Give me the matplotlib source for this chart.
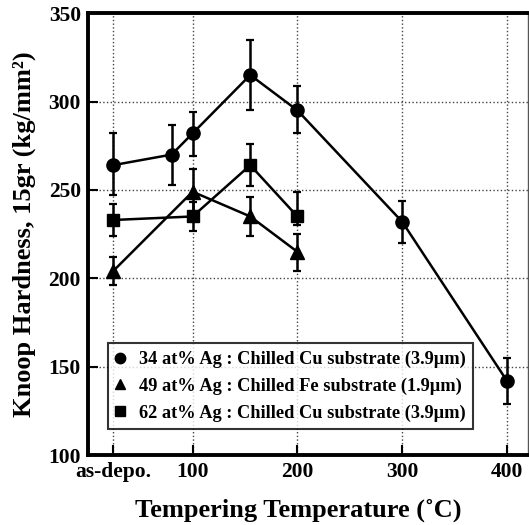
import matplotlib.pyplot as plt

plt.rcParams['font.family'] = ['Liberation Serif', 'DejaVu Serif']
plt.rcParams['font.weight'] = 'bold'

# temperature positions; "as-depo." sits left of the 100 tick
x_asdepo = 24
tick_pos = [x_asdepo, 100, 200, 300, 400]
tick_labels = ['as-depo.', '100', '200', '300', '400']

# 34 at% Ag, chilled Cu substrate
x_34 = [x_asdepo, 80, 100, 155, 200, 300, 400]
hv_34 = [264, 270, 282, 315, 295, 232, 142]
err_34_lo = [17, 17, 13, 20, 13, 12, 13]
err_34_hi = [18, 17, 12, 20, 14, 12, 13]

# 49 at% Ag, chilled Fe substrate
x_49 = [x_asdepo, 100, 155, 200]
hv_49 = [204, 249, 235, 215]
err_49_lo = [8, 13, 11, 11]
err_49_hi = [8, 13, 11, 10]

# 62 at% Ag, chilled Cu substrate
x_62 = [x_asdepo, 100, 155, 200]
hv_62 = [233, 235, 264, 235]
err_62_lo = [9, 8, 12, 5]
err_62_hi = [9, 8, 12, 14]

labels = ['34 at% Ag : Chilled Cu substrate (3.9\u00b5m)',
          '49 at% Ag : Chilled Fe substrate (1.9\u00b5m)',
          '62 at% Ag : Chilled Cu substrate (3.9\u00b5m)']

fig = plt.figure(figsize=(5.29, 5.25), dpi=100)
ax = fig.add_axes([0.166, 0.133, 0.832, 0.842])

series = [(x_34, hv_34, err_34_lo, err_34_hi, 'o', 9.5),
          (x_49, hv_49, err_49_lo, err_49_hi, '^', 10.5),
          (x_62, hv_62, err_62_lo, err_62_hi, 's', 9)]
handles = []
for (x, y, lo, hi, m, ms), lab in zip(series, labels):
    ax.errorbar(x, y, yerr=[lo, hi], fmt='none', ecolor='black',
                elinewidth=1.8, capsize=3.2, capthick=1.6, zorder=3)
    ax.plot(x, y, color='black', lw=1.8, marker=m, ms=ms, zorder=4)
    h, = ax.plot([], [], ls='none', marker=m, color='black', ms=7.5)
    handles.append(h)

ax.set_xlim(0, 420)
ax.set_ylim(100, 350)
ax.set_xticks(tick_pos)
ax.set_xticklabels(tick_labels)
ax.set_yticks([100, 150, 200, 250, 300, 350])
ax.grid(True, ls=':', color='#444444', lw=1.0)
ax.set_axisbelow(True)

ax.tick_params(direction='in', length=7, width=1.5, labelsize=15.5, pad=5,
               top=False, right=False)
for s in ['left', 'bottom', 'top']:
    ax.spines[s].set_linewidth(2.8)
ax.spines['right'].set_linewidth(1.0)
ax.spines['right'].set_color('#555555')

ax.set_xlabel('Tempering Temperature (\u02daC)', fontsize=19, fontweight='bold', labelpad=11)
ax.xaxis.set_label_coords(0.477, -0.097)
ax.set_ylabel('Knoop Hardness, 15gr (kg/mm\u00b2)', fontsize=19, fontweight='bold', labelpad=9)

leg = ax.legend(handles, labels, loc='lower left', bbox_to_anchor=(0.045, 0.059),
                frameon=True, fancybox=False, handlelength=0.6,
                handletextpad=0.7, borderpad=0.4, labelspacing=0.52,
                borderaxespad=0, prop={'weight': 'bold', 'size': 13.2})
leg.get_frame().set_edgecolor('black')
leg.get_frame().set_linewidth(1.5)

fig.savefig('out.png', dpi=100)
